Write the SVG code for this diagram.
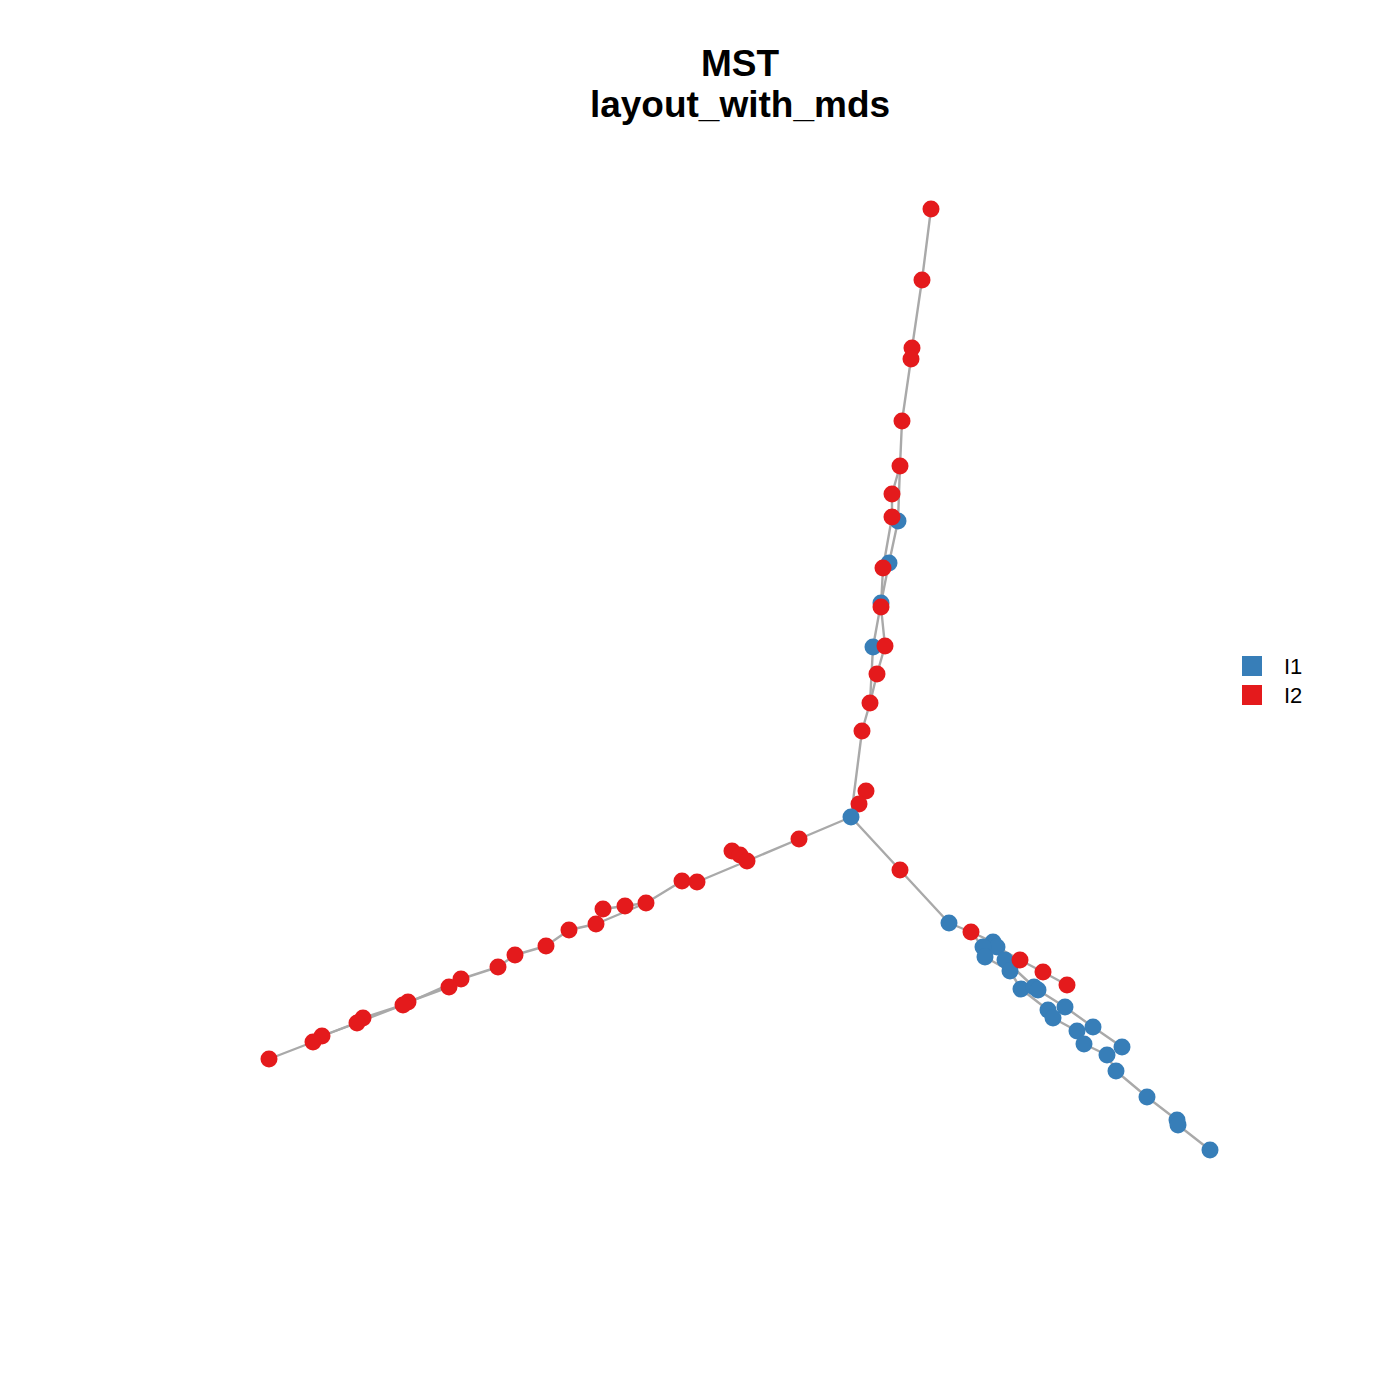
<svg xmlns="http://www.w3.org/2000/svg" width="1400" height="1400" viewBox="0 0 1400 1400">
<style>
.e{stroke:#A9A9A9;stroke-width:2.4;fill:none;stroke-linejoin:round}
.b{fill:#377EB8}
.r{fill:#E41A1C}
.t{font-family:"Liberation Sans",Arial,sans-serif;font-weight:bold;font-size:37px;text-anchor:middle;fill:#000}
.l{font-family:"Liberation Sans",Arial,sans-serif;font-size:22px;fill:#000}
</style>
<rect width="1400" height="1400" fill="#fff"/>
<g id="title">
<text class="t" x="740" y="76">MST</text>
<text class="t" x="740" y="117">layout_with_mds</text>
</g>
<g id="edges">
<polyline class="e" points="851,817 859,804 866,791"/>
<polyline class="e" points="851,817 862,731 870,703 877,674 885,646 881,607 883,568 892,517 892,494 900,466 902,421 911,359 912,348 922,280 931,209"/>
<polyline class="e" points="870,703 873,647 881,603 889,563 898,521 900,466"/>
<polyline class="e" points="851,817 900,870 949,923 971,932 993,942 997,947 1020,960 1043,972 1067,985"/>
<polyline class="e" points="993,942 1005,960 1034,987 1038,990 1065,1007 1093,1027 1122,1047"/>
<polyline class="e" points="971,932 983,947 985,957 1010,971 1021,989 1048,1010 1053,1018 1077,1031 1084,1044 1107,1055 1116,1071 1147,1097 1177,1120 1178,1125 1210,1150"/>
<polyline class="e" points="851,817 799,839 747,861 697,882 682,881 646,903 596,924 569,930 546,946 515,955 498,967 461,979 449,987 408,1002 403,1005 363,1018 357,1023 322,1036 313,1042 269,1059"/>
<polyline class="e" points="747,861 740,855 732,851"/>
<polyline class="e" points="646,903 625,906 603,909"/>
<polyline class="e" points="461,979 403,1005 322,1036"/>
</g>
<g id="nodes-I1">
<circle class="b" cx="898" cy="521" r="8.5"/>
<circle class="b" cx="889" cy="563" r="8.5"/>
<circle class="b" cx="881" cy="603" r="8.5"/>
<circle class="b" cx="873" cy="647" r="8.5"/>
<circle class="b" cx="949" cy="923" r="8.5"/>
<circle class="b" cx="993" cy="942" r="8.5"/>
<circle class="b" cx="997" cy="947" r="8.5"/>
<circle class="b" cx="983" cy="947" r="8.5"/>
<circle class="b" cx="985" cy="957" r="8.5"/>
<circle class="b" cx="1005" cy="960" r="8.5"/>
<circle class="b" cx="1010" cy="971" r="8.5"/>
<circle class="b" cx="1021" cy="989" r="8.5"/>
<circle class="b" cx="1034" cy="987" r="8.5"/>
<circle class="b" cx="1038" cy="990" r="8.5"/>
<circle class="b" cx="1065" cy="1007" r="8.5"/>
<circle class="b" cx="1048" cy="1010" r="8.5"/>
<circle class="b" cx="1053" cy="1018" r="8.5"/>
<circle class="b" cx="1093" cy="1027" r="8.5"/>
<circle class="b" cx="1077" cy="1031" r="8.5"/>
<circle class="b" cx="1084" cy="1044" r="8.5"/>
<circle class="b" cx="1122" cy="1047" r="8.5"/>
<circle class="b" cx="1107" cy="1055" r="8.5"/>
<circle class="b" cx="1116" cy="1071" r="8.5"/>
<circle class="b" cx="1147" cy="1097" r="8.5"/>
<circle class="b" cx="1177" cy="1120" r="8.5"/>
<circle class="b" cx="1178" cy="1125" r="8.5"/>
<circle class="b" cx="1210" cy="1150" r="8.5"/>
</g>
<g id="nodes-I2">
<circle class="r" cx="931" cy="209" r="8.5"/>
<circle class="r" cx="922" cy="280" r="8.5"/>
<circle class="r" cx="912" cy="348" r="8.5"/>
<circle class="r" cx="911" cy="359" r="8.5"/>
<circle class="r" cx="902" cy="421" r="8.5"/>
<circle class="r" cx="900" cy="466" r="8.5"/>
<circle class="r" cx="892" cy="494" r="8.5"/>
<circle class="r" cx="892" cy="517" r="8.5"/>
<circle class="r" cx="883" cy="568" r="8.5"/>
<circle class="r" cx="881" cy="607" r="8.5"/>
<circle class="r" cx="885" cy="646" r="8.5"/>
<circle class="r" cx="877" cy="674" r="8.5"/>
<circle class="r" cx="870" cy="703" r="8.5"/>
<circle class="r" cx="862" cy="731" r="8.5"/>
<circle class="r" cx="866" cy="791" r="8.5"/>
<circle class="r" cx="859" cy="804" r="8.5"/>
<circle class="r" cx="900" cy="870" r="8.5"/>
<circle class="r" cx="971" cy="932" r="8.5"/>
<circle class="r" cx="1020" cy="960" r="8.5"/>
<circle class="r" cx="1043" cy="972" r="8.5"/>
<circle class="r" cx="1067" cy="985" r="8.5"/>
<circle class="r" cx="799" cy="839" r="8.5"/>
<circle class="r" cx="732" cy="851" r="8.5"/>
<circle class="r" cx="740" cy="855" r="8.5"/>
<circle class="r" cx="747" cy="861" r="8.5"/>
<circle class="r" cx="682" cy="881" r="8.5"/>
<circle class="r" cx="697" cy="882" r="8.5"/>
<circle class="r" cx="646" cy="903" r="8.5"/>
<circle class="r" cx="625" cy="906" r="8.5"/>
<circle class="r" cx="603" cy="909" r="8.5"/>
<circle class="r" cx="596" cy="924" r="8.5"/>
<circle class="r" cx="569" cy="930" r="8.5"/>
<circle class="r" cx="546" cy="946" r="8.5"/>
<circle class="r" cx="515" cy="955" r="8.5"/>
<circle class="r" cx="498" cy="967" r="8.5"/>
<circle class="r" cx="461" cy="979" r="8.5"/>
<circle class="r" cx="449" cy="987" r="8.5"/>
<circle class="r" cx="408" cy="1002" r="8.5"/>
<circle class="r" cx="403" cy="1005" r="8.5"/>
<circle class="r" cx="363" cy="1018" r="8.5"/>
<circle class="r" cx="357" cy="1023" r="8.5"/>
<circle class="r" cx="322" cy="1036" r="8.5"/>
<circle class="r" cx="313" cy="1042" r="8.5"/>
<circle class="r" cx="269" cy="1059" r="8.5"/>
</g>
<g id="hub">
<circle class="b" cx="851" cy="817" r="8.5"/>
</g>
<g id="legend">
<rect class="b" x="1242" y="656" width="20" height="20"/>
<rect class="r" x="1242" y="685" width="20" height="20"/>
<text class="l" x="1284" y="674">I1</text>
<text class="l" x="1284" y="703">I2</text>
</g>
</svg>
